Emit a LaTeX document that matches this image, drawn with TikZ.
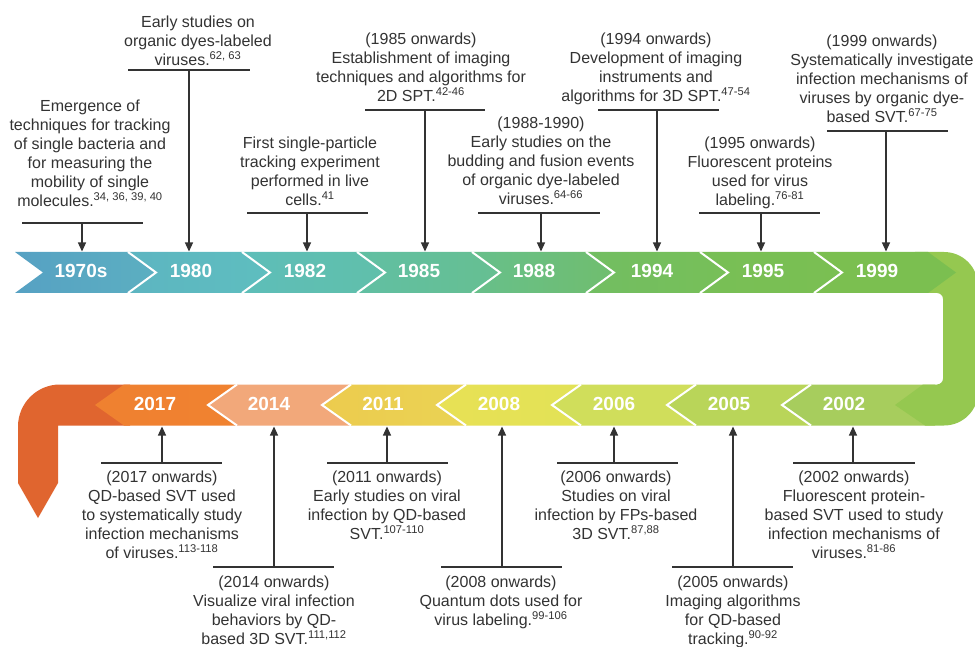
\documentclass[tikz,border=0pt]{standalone}
\usepackage{fontspec}
\setmainfont{Liberation Sans}
\usetikzlibrary{arrows.meta}
\definecolor{txt}{HTML}{333333}
\definecolor{cA1}{HTML}{56A1C3}\definecolor{cA2}{HTML}{5CAFC1}
\definecolor{cB1}{HTML}{5DB5C1}\definecolor{cB2}{HTML}{5EBEBF}
\definecolor{cC1}{HTML}{5EBEB9}\definecolor{cC2}{HTML}{60BFAA}
\definecolor{cD1}{HTML}{61BFA3}\definecolor{cD2}{HTML}{66BF91}
\definecolor{cE1}{HTML}{67BF8B}\definecolor{cE2}{HTML}{70BE6E}
\definecolor{cF1}{HTML}{72BE62}\definecolor{cF2}{HTML}{77BF58}
\definecolor{cG1}{HTML}{78BF56}\definecolor{cG2}{HTML}{7ABF52}
\definecolor{cH}{HTML}{7BBF50}
\definecolor{cBend}{HTML}{95C850}
\definecolor{c2002}{HTML}{A7CD5D}
\definecolor{c2005}{HTML}{B9D559}
\definecolor{c2006}{HTML}{D0DE5B}
\definecolor{c2008a}{HTML}{E2E256}\definecolor{c2008b}{HTML}{E8E155}
\definecolor{c2011a}{HTML}{ECCB4E}\definecolor{c2011b}{HTML}{EAD354}
\definecolor{c2014}{HTML}{F2A87A}
\definecolor{c2017}{HTML}{F08230}
\definecolor{cL}{HTML}{E0652F}
\newcommand{\annot}[5]{%
  \coordinate (#1L) at (#2,#4);
  \coordinate (#1R) at (#3,#4);
  \coordinate (#1J) at (#5,#4);
}
\begin{document}
\begin{tikzpicture}[x=1pt,y=-1pt,
  note/.style={align=center, font=\fontsize{16}{19}\selectfont, text=txt, inner sep=0pt, anchor=north},
  yr/.style={font=\fontsize{19}{22}\selectfont\bfseries, text=white, inner sep=0pt},
  annline/.style={draw=txt, line width=1.2pt},
  annarrow/.style={draw=txt, line width=1.2pt, -{Triangle[width=8pt,length=9pt]}},
  sep/.style={draw=white, line width=2pt, line join=miter}
]
\useasboundingbox (0,0) rectangle (975,647);
\fill[white] (0,0) rectangle (975,647);

% ---- orange L at the lower left
\fill[cL] (130,384.5) -- (60,384.5) .. controls (36.8,384.5) and (18,403.3) .. (18,426.5)
  -- (18,483) -- (38,518) -- (58,483) -- (58,425.5) -- (130,425.5) -- cycle;

% ---- bottom row segments (pointing left)
\path[left color=c2017!95!cL, right color=c2017] (124,384.5) -- (237,384.5) -- (208,405) -- (237,425.5) -- (124,425.5) -- (95,405) -- cycle;
\path[fill=c2014] (237,384.5) -- (351,384.5) -- (322,405) -- (351,425.5) -- (237,425.5) -- (208,405) -- cycle;
\path[left color=c2011a, right color=c2011b] (351,384.5) -- (466,384.5) -- (437,405) -- (466,425.5) -- (351,425.5) -- (322,405) -- cycle;
\path[left color=c2008b, right color=c2008a] (466,384.5) -- (581,384.5) -- (552,405) -- (581,425.5) -- (466,425.5) -- (437,405) -- cycle;
\path[fill=c2006] (581,384.5) -- (696,384.5) -- (667,405) -- (696,425.5) -- (581,425.5) -- (552,405) -- cycle;
\path[fill=c2005] (696,384.5) -- (811,384.5) -- (782,405) -- (811,425.5) -- (696,425.5) -- (667,405) -- cycle;
\path[fill=c2002] (811,384.5) -- (935,384.5) -- (935,425.5) -- (811,425.5) -- (782,405) -- cycle;

% ---- right-hand bend
\fill[cBend] (915,252) -- (944,252) .. controls (962.8,252) and (978,267.2) .. (978,286)
  -- (978,392) .. controls (978,410.5) and (962.8,425.5) .. (944,425.5)
  -- (925,425.5) -- (895,405) -- (923,384.5) -- (937,384.5)
  .. controls (940.3,384.5) and (943,381.8) .. (943,378.5)
  -- (943,299) .. controls (943,295.7) and (940.3,293) .. (937,293) -- (915,293) -- cycle;

% ---- top row segments (pointing right)
\path[left color=cA1, right color=cA2] (15,252) -- (128,252) -- (156,272.5) -- (128,293) -- (15,293) -- (43,272.5) -- cycle;
\path[left color=cB1, right color=cB2] (128,252) -- (242,252) -- (270,272.5) -- (242,293) -- (128,293) -- (156,272.5) -- cycle;
\path[left color=cC1, right color=cC2] (242,252) -- (357,252) -- (385,272.5) -- (357,293) -- (242,293) -- (270,272.5) -- cycle;
\path[left color=cD1, right color=cD2] (357,252) -- (472,252) -- (500,272.5) -- (472,293) -- (357,293) -- (385,272.5) -- cycle;
\path[left color=cE1, right color=cE2] (472,252) -- (586,252) -- (614,272.5) -- (586,293) -- (472,293) -- (500,272.5) -- cycle;
\path[left color=cF1, right color=cF2] (586,252) -- (700,252) -- (728,272.5) -- (700,293) -- (586,293) -- (614,272.5) -- cycle;
\path[left color=cG1, right color=cG2] (700,252) -- (814,252) -- (842,272.5) -- (814,293) -- (700,293) -- (728,272.5) -- cycle;
\path[fill=cH] (814,252) -- (928,252) -- (956,272.5) -- (928,293) -- (814,293) -- (842,272.5) -- cycle;

% ---- white separators
\foreach \b in {128,242,357,472,586,700,814}
  \draw[sep] (\b,252) -- (\b+28,272.5) -- (\b,293);
\foreach \b in {237,351,466,581,696,811}
  \draw[sep] (\b,384.5) -- (\b-29,405) -- (\b,425.5);

% ---- year labels
\node[yr] (y1970) at (81,270.5) {1970s};
\node[yr] (y1980) at (191,270.5) {1980};
\node[yr] (y1982) at (305,270.5) {1982};
\node[yr] (y1985) at (419,270.5) {1985};
\node[yr] (y1988) at (534,270.5) {1988};
\node[yr] (y1994) at (652,270.5) {1994};
\node[yr] (y1995) at (763,270.5) {1995};
\node[yr] (y1999) at (877,270.5) {1999};
\node[yr] (y2017) at (155,403.5) {2017};
\node[yr] (y2014) at (269,403.5) {2014};
\node[yr] (y2011) at (383,403.5) {2011};
\node[yr] (y2008) at (499,403.5) {2008};
\node[yr] (y2006) at (614,403.5) {2006};
\node[yr] (y2005) at (729,403.5) {2005};
\node[yr] (y2002) at (844,403.5) {2002};

% ---- arrow tip coordinates on the bands
\foreach \n/\x in {a1/82,a2/189,a3/307,a4/425,a5/541,a6/657,a7/761,a8/886}
  \coordinate (\n T) at (\x,251.5);
\foreach \n/\x in {b1/162,b2/274,b3/387,b4/502,b5/614,b6/733,b7/853}
  \coordinate (\n T) at (\x,426.5);

% ---- top annotations
\annot{a1}{22}{143}{223}{82}
\annot{a2}{128}{250}{70}{189}
\annot{a3}{247}{368}{213}{307}
\annot{a4}{365}{485}{110}{425}
\annot{a5}{478}{600}{213}{541}
\annot{a6}{598}{719}{110}{657}
\annot{a7}{699}{820}{213}{761}
\annot{a8}{827}{948}{131}{886}
% ---- bottom annotations
\annot{b1}{101}{222}{463}{162}
\annot{b2}{213}{334}{567}{274}
\annot{b3}{327}{448}{463}{387}
\annot{b4}{441}{562}{567}{502}
\annot{b5}{557}{678}{463}{614}
\annot{b6}{672}{793}{567}{733}
\annot{b7}{793}{915}{463}{853}

\foreach \n in {a1,a2,a3,a4,a5,a6,a7,a8,b1,b2,b3,b4,b5,b6,b7}{
  \draw[annline] (\n L) -- (\n R);
  \draw[annarrow] (\n J) -- (\n T);
}

% ---- texts, top
\node[note] (t1) at (90,98.4) {\strut Emergence of\\techniques for tracking\\of single bacteria and\\for measuring the\\mobility of single\\molecules.\textsuperscript{34, 36, 39, 40}};
\node[note] (t2) at (198,14.4) {\strut Early studies on\\organic dyes-labeled\\viruses.\textsuperscript{62, 63}};
\node[note] (t3) at (310,135.4) {\strut First single-particle\\tracking experiment\\performed in live\\cells.\textsuperscript{41}};
\node[note] (t4) at (421,31.4) {\strut (1985 onwards)\\Establishment of imaging\\techniques and algorithms for\\2D SPT.\textsuperscript{42-46}};
\node[note] (t5) at (541,115.4) {\strut (1988-1990)\\Early studies on the\\budding and fusion events\\of organic dye-labeled\\viruses.\textsuperscript{64-66}};
\node[note] (t6) at (656,31.4) {\strut (1994 onwards)\\Development of imaging\\instruments and\\algorithms for 3D SPT.\textsuperscript{47-54}};
\node[note] (t7) at (760,135.4) {\strut (1995 onwards)\\Fluorescent proteins\\used for virus\\labeling.\textsuperscript{76-81}};
\node[note] (t8) at (882,33.4) {\strut (1999 onwards)\\Systematically investigate\\infection mechanisms of\\viruses by organic dye-\\based SVT.\textsuperscript{67-75}};

% ---- texts, bottom
\node[note] (u1) at (162,469.4) {\strut (2017 onwards)\\QD-based SVT used\\to systematically study\\infection mechanisms\\of viruses.\textsuperscript{113-118}};
\node[note] (u2) at (274,574.4) {\strut (2014 onwards)\\Visualize viral infection\\behaviors by QD-\\based 3D SVT.\textsuperscript{111,112}};
\node[note] (u3) at (387,469.4) {\strut (2011 onwards)\\Early studies on viral\\infection by QD-based\\SVT.\textsuperscript{107-110}};
\node[note] (u4) at (501,574.4) {\strut (2008 onwards)\\Quantum dots used for\\virus labeling.\textsuperscript{99-106}};
\node[note] (u5) at (616,469.4) {\strut (2006 onwards)\\Studies on viral\\infection by FPs-based\\3D SVT.\textsuperscript{87,88}};
\node[note] (u6) at (733,574.4) {\strut (2005 onwards)\\Imaging algorithms\\for QD-based\\tracking.\textsuperscript{90-92}};
\node[note] (u7) at (854,469.4) {\strut (2002 onwards)\\Fluorescent protein-\\based SVT used to study\\infection mechanisms of\\viruses.\textsuperscript{81-86}};
\end{tikzpicture}
\end{document}
